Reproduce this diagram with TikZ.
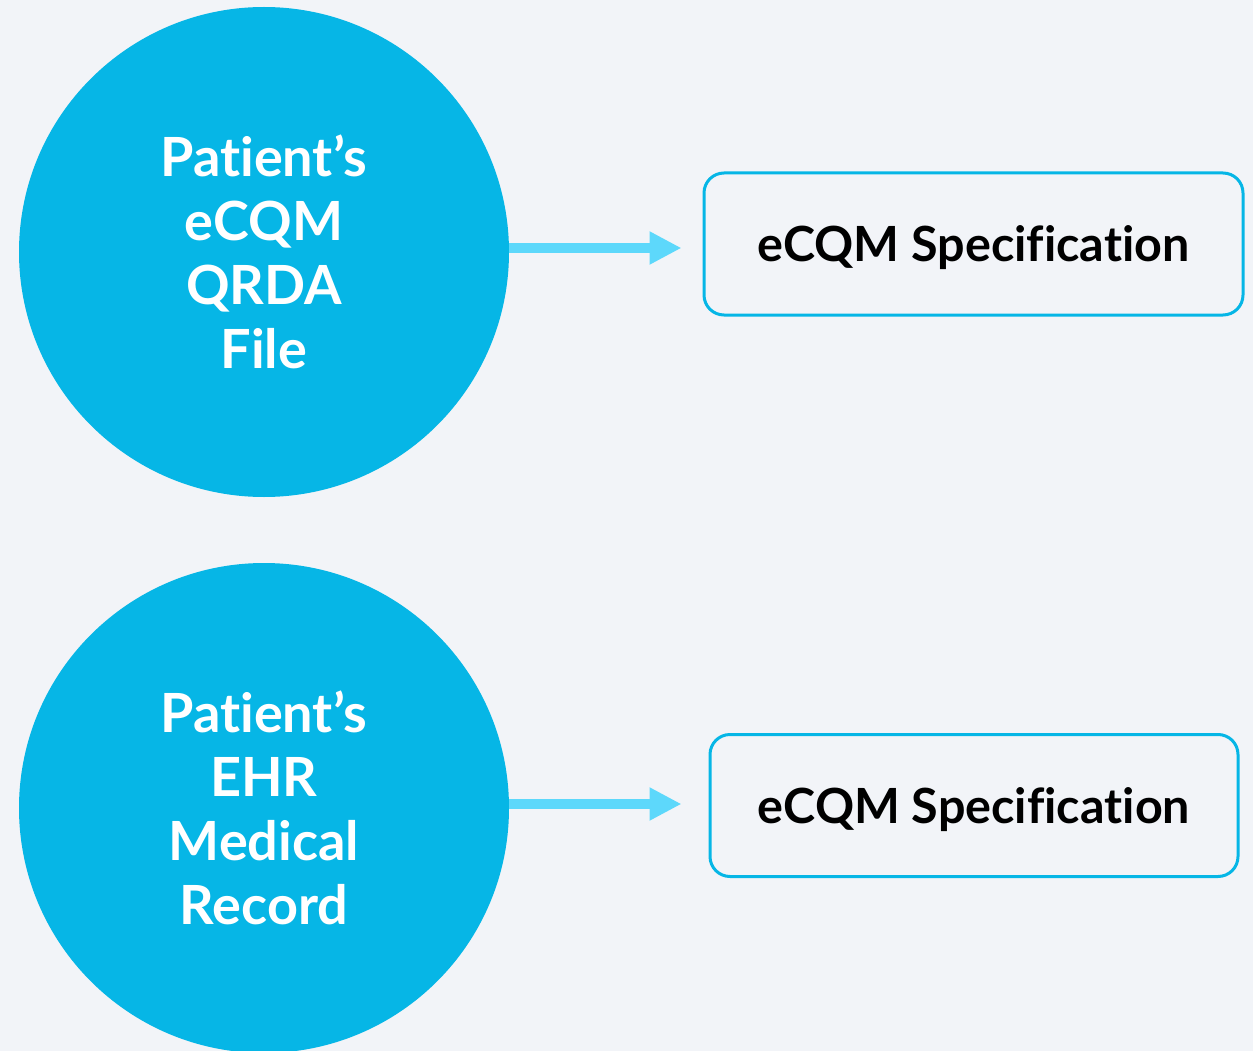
\documentclass[tikz,border=0pt]{standalone}
\usepackage{fontspec}
\setmainfont{Lato}[Ligatures=NoCommon]
\usepackage{xcolor}
\usepackage{tikz}
\usetikzlibrary{positioning,arrows.meta}

\definecolor{bgcol}{HTML}{F2F4F8}
\definecolor{circcol}{HTML}{06B6E6}
\definecolor{arrcol}{HTML}{5DD8FB}

\begin{document}
\begin{tikzpicture}[
    x=1pt, y=-1pt,
    source/.style={
        circle,
        fill=circcol,
        minimum size=490pt,
        inner sep=0pt,
        text=white,
        align=center,
        font=\fontsize{54}{64}\selectfont\bfseries
    },
    target/.style={
        draw=circcol,
        line width=3pt,
        rounded corners=20pt,
        fill=bgcol,
        minimum height=142pt,
        text depth=0pt,
        align=center,
        font=\fontsize{48.5}{52}\selectfont\bfseries
    },
    flow/.style={
        draw=arrcol,
        line width=10pt,
        -{Triangle[width=31pt,length=32pt]}
    }
]
% background and page size
\fill[bgcol] (0,0) rectangle (1253,1051);
\useasboundingbox (0,0) rectangle (1253,1051);

% the two sources
\node[source] (QRDA) at (264,252) {Patient’s\\eCQM\\QRDA\\File};
\node[source] (EHR) at (264,808) {Patient’s\\EHR\\Medical\\Record};

% the two specifications
\node[target, minimum width=539pt] (SpecA) at (973.5,244) {eCQM Specification};
\node[target, minimum width=528pt] (SpecB) at (974,805.5) {eCQM Specification};

% arrows
\draw[flow, shorten >=21pt] ([yshift=4pt]QRDA.east) -- ([yshift=4pt]QRDA.east -| SpecA.west);
\draw[flow, shorten >=27pt] ([yshift=4pt]EHR.east) -- ([yshift=4pt]EHR.east -| SpecB.west);

\end{tikzpicture}
\end{document}
